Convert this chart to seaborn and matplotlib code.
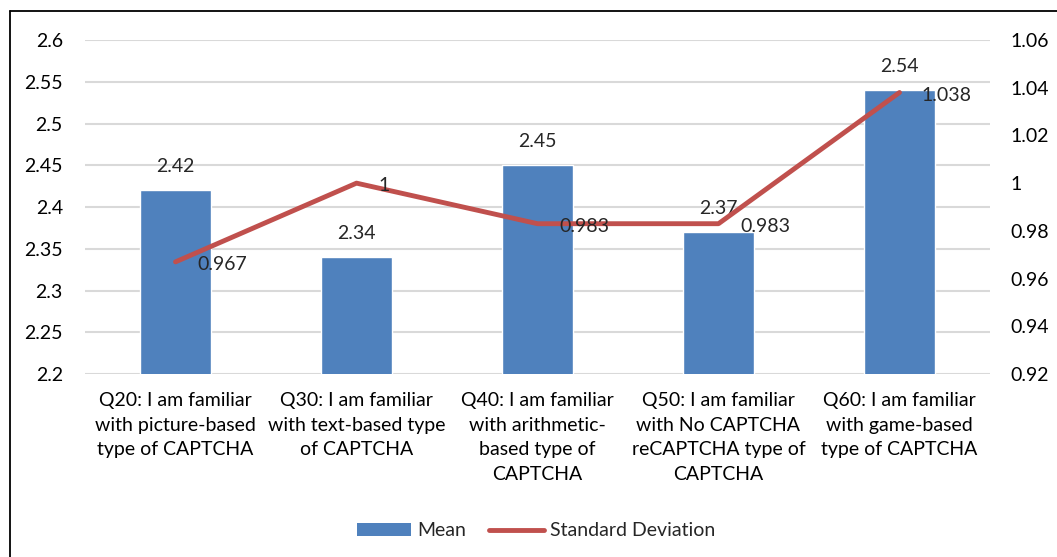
import matplotlib
matplotlib.use("Agg")
import matplotlib.pyplot as plt
import seaborn as sns
import pandas as pd
from matplotlib.lines import Line2D
from matplotlib.patches import Patch

categories = [
    "Q20: I am familiar\nwith picture-based\ntype of CAPTCHA",
    "Q30: I am familiar\nwith text-based type\nof CAPTCHA",
    "Q40: I am familiar\nwith arithmetic-\nbased type of\nCAPTCHA",
    "Q50: I am familiar\nwith No CAPTCHA\nreCAPTCHA type of\nCAPTCHA",
    "Q60: I am familiar\nwith game-based\ntype of CAPTCHA",
]
mean_values = [2.42, 2.34, 2.45, 2.37, 2.54]
sd_values = [0.967, 1.0, 0.983, 0.983, 1.038]
sd_labels = ["0.967", "1", "0.983", "0.983", "1.038"]
left_ticks = [2.2, 2.25, 2.3, 2.35, 2.4, 2.45, 2.5, 2.55, 2.6]
left_tick_labels = ["2.2", "2.25", "2.3", "2.35", "2.4", "2.45", "2.5", "2.55", "2.6"]
right_ticks = [0.92, 0.94, 0.96, 0.98, 1.0, 1.02, 1.04, 1.06]
right_tick_labels = ["0.92", "0.94", "0.96", "0.98", "1", "1.02", "1.04", "1.06"]

BAR_COLOR = "#4F81BD"
LINE_COLOR = "#C0504D"
GRID_COLOR = "#D9D9D9"
FS = 14

sns.set_theme(style="white")
plt.rcParams["font.family"] = ["Lato", "DejaVu Sans"]
plt.rcParams["font.size"] = FS

df = pd.DataFrame({"question": categories, "mean": mean_values, "sd": sd_values})

W, H = 1057, 557
fig = plt.figure(figsize=(W / 100, H / 100), dpi=100)
ax = fig.add_axes([85 / W, 1 - 374 / H, (990 - 85) / W, (374 - 40) / H])

sns.barplot(data=df, x="question", y="mean", color=BAR_COLOR, width=0.395,
            saturation=1, ax=ax, zorder=2)
ax.set_ylim(2.2, 2.6)
ax.set_yticks(left_ticks)
ax.set_yticklabels(left_tick_labels)
ax.set_xlim(-0.5, len(categories) - 0.5)
ax.set_xlabel("")
ax.set_ylabel("")
for y in left_ticks:
    ax.axhline(y, color=GRID_COLOR, lw=1.5, zorder=0)
for s in ax.spines.values():
    s.set_visible(False)
ax.tick_params(axis="both", length=0, labelsize=FS, colors="black")
ax.tick_params(axis="y", pad=16)
ax.tick_params(axis="x", pad=13)
for t in ax.get_xticklabels():
    t.set_linespacing(1.55)

for i, v in enumerate(mean_values):
    ax.annotate(f"{v:.2f}", (i, v), xytext=(0, 17), textcoords="offset points",
                ha="center", va="center", fontsize=FS)

ax2 = ax.twinx()
sns.lineplot(x=list(range(len(categories))), y=sd_values, ax=ax2,
             color=LINE_COLOR, lw=3.5, sort=False, zorder=3)
ax2.set_ylim(0.92, 1.06)
ax2.set_yticks(right_ticks)
ax2.set_yticklabels(right_tick_labels)
ax2.set_ylabel("")
for s in ax2.spines.values():
    s.set_visible(False)
ax2.tick_params(axis="y", length=0, labelsize=FS, pad=14.5, colors="black")

for i, (v, lab) in enumerate(zip(sd_values, sd_labels)):
    ax2.annotate(lab, (i, v), xytext=(16, -2), textcoords="offset points",
                 ha="left", va="center", fontsize=FS, zorder=4)

# outer chart frame
fig.add_artist(Line2D([10 / W, 1.0], [1 - 11 / H, 1 - 11 / H], color="black", lw=1.3))
fig.add_artist(Line2D([10 / W, 10 / W], [0.0, 1 - 11 / H], color="black", lw=1.3))

handles = [Patch(facecolor=BAR_COLOR, edgecolor="none"),
           Line2D([], [], color=LINE_COLOR, lw=3.5)]
fig.legend(handles, ["Mean", "Standard Deviation"], loc="center",
           bbox_to_anchor=(536 / W, 1 - 531 / H), ncol=2, frameon=False,
           fontsize=FS, handlelength=2.8, handleheight=0.65, columnspacing=1.2,
           handletextpad=0.3)

fig.savefig("out.png", dpi=100)
